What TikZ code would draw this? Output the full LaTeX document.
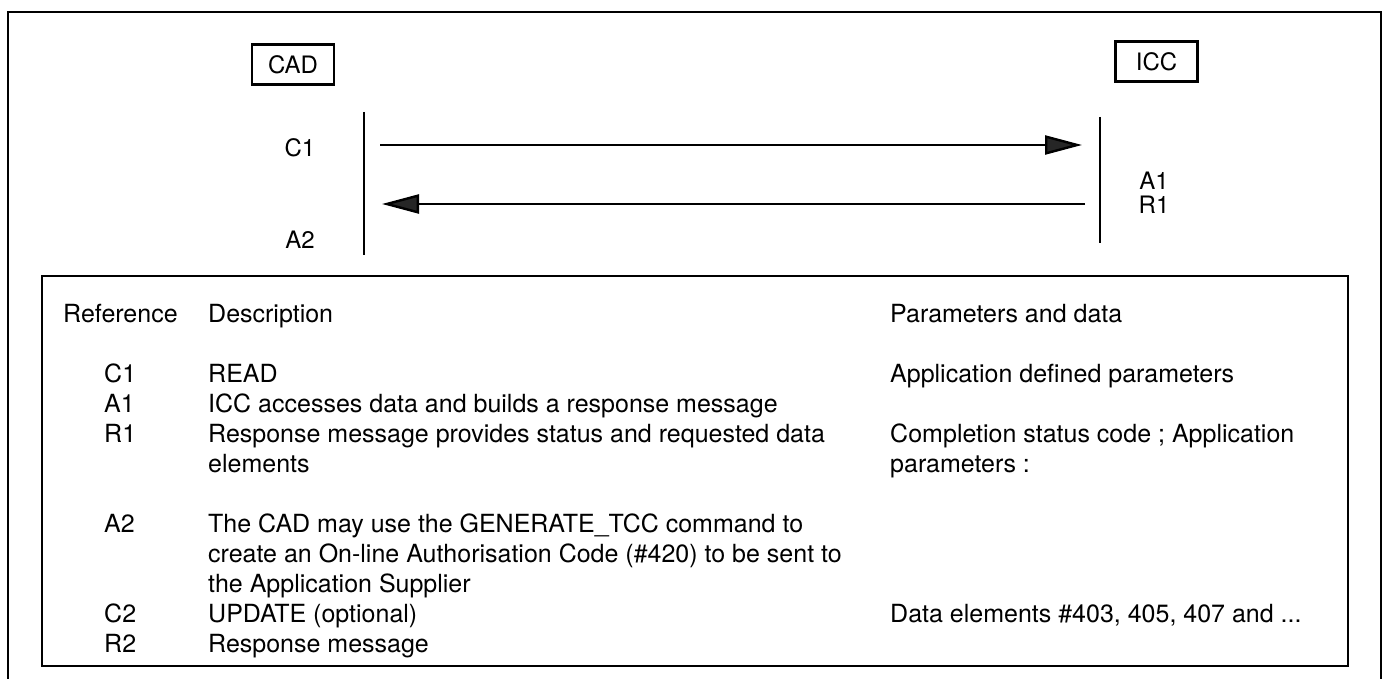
\documentclass[tikz,border=0pt]{standalone}
\usepackage{fontspec}
\setmainfont{TeX Gyre Heros}
\usetikzlibrary{arrows.meta}
\begin{document}
\begin{tikzpicture}[x=1pt,y=-1pt,
  frame/.style={line width=2.2pt, black},
  actor/.style={draw=black, line width=2.4pt, minimum width=82pt, minimum height=40pt, inner sep=0pt, font=\fontsize{24}{28}\selectfont},
  lifeline/.style={line width=2.6pt, black},
  msg/.style={line width=2.4pt, black, -{Triangle[length=37pt,width=19pt,fill=black!85]}},
  lbl/.style={inner sep=0pt, font=\fontsize{24}{28}\selectfont},
  txt/.style={inner sep=0pt, anchor=base west, font=\fontsize{25}{30}\selectfont}
]
\useasboundingbox (0,0) rectangle (1384,679);

% outer frame
\coordinate (ofbl) at (8,679);
\coordinate (oftl) at (8,12);
\coordinate (oftr) at (1381,12);
\coordinate (ofbr) at (1381,679);
\draw[frame] (ofbl) -- (oftl) -- (oftr) -- (ofbr);

% actors
\node[actor] (cad) at (293,64.5) {CAD};
\node[actor] (icc) at (1156.5,61.5) {ICC};

% lifelines
\coordinate (cadtop) at (364,112);
\coordinate (cadbot) at (364,255);
\coordinate (icctop) at (1100,117);
\coordinate (iccbot) at (1100,243);
\draw[lifeline] (cadtop) -- (cadbot);
\draw[lifeline] (icctop) -- (iccbot);

% messages
\coordinate (c1from) at (380,145);
\coordinate (c1to) at (1082,145);
\coordinate (r1from) at (1085,204);
\coordinate (r1to) at (382,204);
\draw[msg] (c1from) -- (c1to);
\draw[msg] (r1from) -- (r1to);

% message labels
\node[lbl] (lc1) at (300,148) {C1};
\node[lbl] (la2) at (300,240) {A2};
\node[lbl] (la1) at (1154,181) {A1};
\node[lbl] (lr1) at (1154,205) {R1};

% table box
\node[draw=black, line width=2.6pt, inner sep=0pt, minimum width=1306pt, minimum height=390pt] (tbl) at (695,471) {};

% header
\node[txt] (href) at (63,322) {Reference};
\node[txt] (hdesc) at (208,322) {Description};
\node[txt] (hpar) at (890,322) {Parameters and data};

% rows
\node[txt] (rc1) at (104,382) {C1};
\node[txt] (dc1) at (208,382) {READ};
\node[txt] (pc1) at (890,382) {Application defined parameters};

\node[txt] (ra1) at (104,412) {A1};
\node[txt] (da1) at (208,412) {ICC accesses data and builds a response message};

\node[txt] (rr1) at (104,442) {R1};
\node[txt] (dr1a) at (208,442) {Response message provides status and requested data};
\node[txt] (dr1b) at (208,472) {elements};
\node[txt] (pr1a) at (890,442) {Completion status code ; Application};
\node[txt] (pr1b) at (890,472) {parameters :};

\node[txt] (ra2) at (104,532) {A2};
\node[txt] (da2a) at (208,532) {The CAD may use the GENERATE\_TCC command to};
\node[txt] (da2b) at (208,562) {create an On-line Authorisation Code (\#420) to be sent to};
\node[txt] (da2c) at (208,592) {the Application Supplier};

\node[txt] (rc2) at (104,622) {C2};
\node[txt] (dc2) at (208,622) {UPDATE (optional)};
\node[txt] (pc2) at (890,622) {Data elements \#403, 405, 407 and ...};

\node[txt] (rr2) at (104,652) {R2};
\node[txt] (dr2) at (208,652) {Response message};
\end{tikzpicture}
\end{document}
